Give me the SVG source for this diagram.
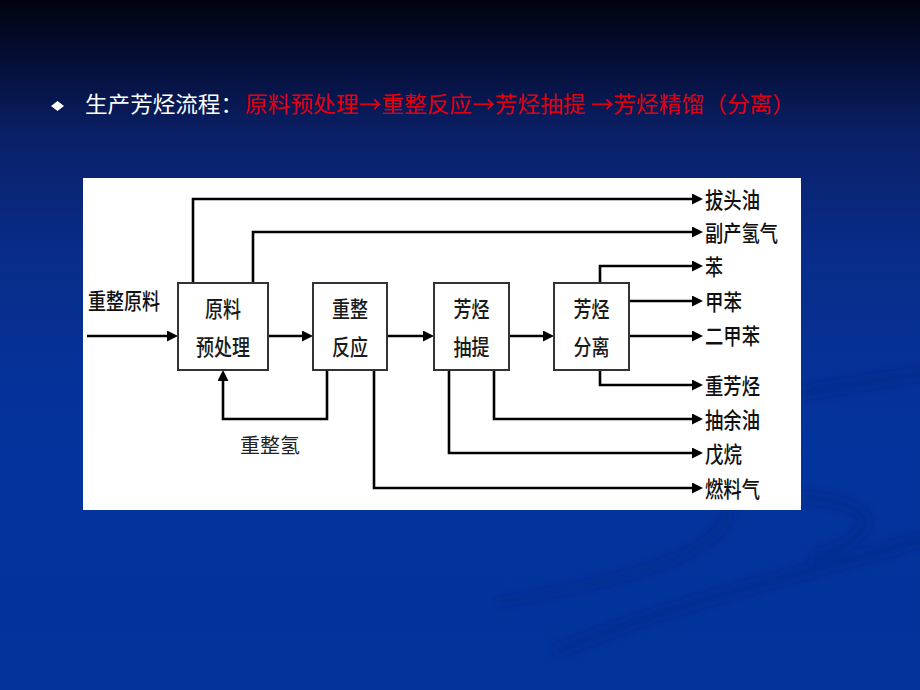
<svg xmlns="http://www.w3.org/2000/svg" width="920" height="690" viewBox="0 0 920 690">
  <defs>
    <linearGradient id="bg" x1="0" y1="0" x2="0" y2="1">
      <stop offset="0" stop-color="#01040f"/>
      <stop offset="0.08" stop-color="#040d33"/>
      <stop offset="0.2" stop-color="#0a2068"/>
      <stop offset="0.36" stop-color="#082c88"/>
      <stop offset="0.6" stop-color="#04339c"/>
      <stop offset="1" stop-color="#02349c"/>
    </linearGradient>
    <filter id="soft" x="-10%" y="-10%" width="120%" height="120%">
      <feGaussianBlur stdDeviation="4"/>
    </filter>
    <marker id="ah" viewBox="0 0 11 11" refX="5" refY="5.5" markerWidth="11" markerHeight="11" markerUnits="userSpaceOnUse" orient="auto">
      <path d="M0,0 L11,5.5 L0,11 z" fill="#000"/>
    </marker>
    <style>
      .box { fill: #ffffff; stroke: #333333; stroke-width: 2; }
      .bt { font-family: "Noto Sans CJK SC", "Noto Sans", sans-serif; font-size: 22px; font-weight: 500; fill: #1a1a1a; text-anchor: middle; }
      .lbl { font-family: "Noto Sans CJK SC", "Noto Sans", sans-serif; font-size: 22px; font-weight: 500; fill: #111111; }
      .ca { fill: none; stroke: #000; stroke-width: 2.6; marker-end: url(#ah); }
      .title { font-family: "Noto Sans CJK SC", "Noto Sans", sans-serif; font-size: 22px; }
      .sw { fill: none; stroke: #00257c; stroke-opacity: 0.3; stroke-linecap: round; }
    </style>
  </defs>

  <!-- background -->
  <rect x="0" y="0" width="920" height="690" fill="url(#bg)"/>
  <g filter="url(#soft)">
    <path class="sw" stroke-width="14" d="M920,374 C880,380 840,386 805,393"/>
    <path class="sw" stroke-width="12" d="M805,498 C850,500 875,515 862,530 C850,545 830,552 815,556"/>
    <path class="sw" stroke-width="14" d="M920,540 C820,570 680,600 560,650"/>
    <path class="sw" stroke-width="10" d="M728,512 C720,560 600,585 500,602"/>
  </g>

  <!-- title -->
  <g id="title">
    <path d="M57.5,101 L64,106 L57.5,111 L51,106 z" fill="#ffffff"/>
    <text class="title" x="85" y="112" fill="#ffffff" textLength="158" lengthAdjust="spacingAndGlyphs">生产芳烃流程：</text>
    <text class="title" x="245" y="112" fill="#e00010" textLength="550" lengthAdjust="spacingAndGlyphs">原料预处理→重整反应→芳烃抽提 →芳烃精馏（分离）</text>
  </g>

  <!-- diagram panel -->
  <rect x="83" y="178" width="718" height="332" fill="#ffffff"/>

  <!-- connectors -->
  <g id="connectors">
    <path class="ca" d="M87,336 H172"/>
    <path class="ca" d="M268,336 H307"/>
    <path class="ca" d="M387,336 H428"/>
    <path class="ca" d="M509,336 H548"/>
    <path class="ca" d="M193,283 V199 H697"/>
    <path class="ca" d="M253,283 V232 H697"/>
    <path class="ca" d="M600,283 V266 H697"/>
    <path class="ca" d="M629,301 H697"/>
    <path class="ca" d="M629,336 H697"/>
    <path class="ca" d="M600,370 V385 H697"/>
    <path class="ca" d="M494,370 V419 H697"/>
    <path class="ca" d="M449,370 V453 H697"/>
    <path class="ca" d="M374,370 V488 H697"/>
    <path class="ca" d="M327,370 V419 H223 V376"/>
  </g>

  <!-- nodes -->
  <g id="pretreat">
    <rect class="box" x="178" y="283" width="90" height="87"/>
    <text class="bt" x="223" y="317" textLength="36" lengthAdjust="spacingAndGlyphs">原料</text>
    <text class="bt" x="223" y="355" textLength="54" lengthAdjust="spacingAndGlyphs">预处理</text>
  </g>
  <g id="reform">
    <rect class="box" x="313" y="283" width="74" height="87"/>
    <text class="bt" x="350" y="317" textLength="36" lengthAdjust="spacingAndGlyphs">重整</text>
    <text class="bt" x="350" y="355" textLength="36" lengthAdjust="spacingAndGlyphs">反应</text>
  </g>
  <g id="extract">
    <rect class="box" x="434" y="283" width="75" height="87"/>
    <text class="bt" x="471.5" y="317" textLength="36" lengthAdjust="spacingAndGlyphs">芳烃</text>
    <text class="bt" x="471.5" y="355" textLength="36" lengthAdjust="spacingAndGlyphs">抽提</text>
  </g>
  <g id="separate">
    <rect class="box" x="554" y="283" width="75" height="87"/>
    <text class="bt" x="591.5" y="317" textLength="36" lengthAdjust="spacingAndGlyphs">芳烃</text>
    <text class="bt" x="591.5" y="355" textLength="36" lengthAdjust="spacingAndGlyphs">分离</text>
  </g>

  <!-- stream labels -->
  <g id="feed"><text class="lbl" x="88" y="309" textLength="72" lengthAdjust="spacingAndGlyphs">重整原料</text></g>
  <g id="recycle-h2"><text x="240" y="453" font-family="Noto Sans CJK SC, sans-serif" font-size="20" fill="#222" textLength="60" lengthAdjust="spacingAndGlyphs">重整氢</text></g>
  <g id="out-light"><text class="lbl" x="705" y="208" textLength="55" lengthAdjust="spacingAndGlyphs">拔头油</text></g>
  <g id="out-h2"><text class="lbl" x="705" y="241" textLength="73" lengthAdjust="spacingAndGlyphs">副产氢气</text></g>
  <g id="out-benzene"><text class="lbl" x="705" y="275" textLength="18" lengthAdjust="spacingAndGlyphs">苯</text></g>
  <g id="out-toluene"><text class="lbl" x="705" y="310" textLength="37" lengthAdjust="spacingAndGlyphs">甲苯</text></g>
  <g id="out-xylene"><text class="lbl" x="705" y="344" textLength="55" lengthAdjust="spacingAndGlyphs">二甲苯</text></g>
  <g id="out-heavy"><text class="lbl" x="705" y="394" textLength="55" lengthAdjust="spacingAndGlyphs">重芳烃</text></g>
  <g id="out-raffinate"><text class="lbl" x="705" y="428" textLength="55" lengthAdjust="spacingAndGlyphs">抽余油</text></g>
  <g id="out-pentane"><text class="lbl" x="705" y="462" textLength="37" lengthAdjust="spacingAndGlyphs">戊烷</text></g>
  <g id="out-fuelgas"><text class="lbl" x="705" y="497" textLength="55" lengthAdjust="spacingAndGlyphs">燃料气</text></g>
</svg>
